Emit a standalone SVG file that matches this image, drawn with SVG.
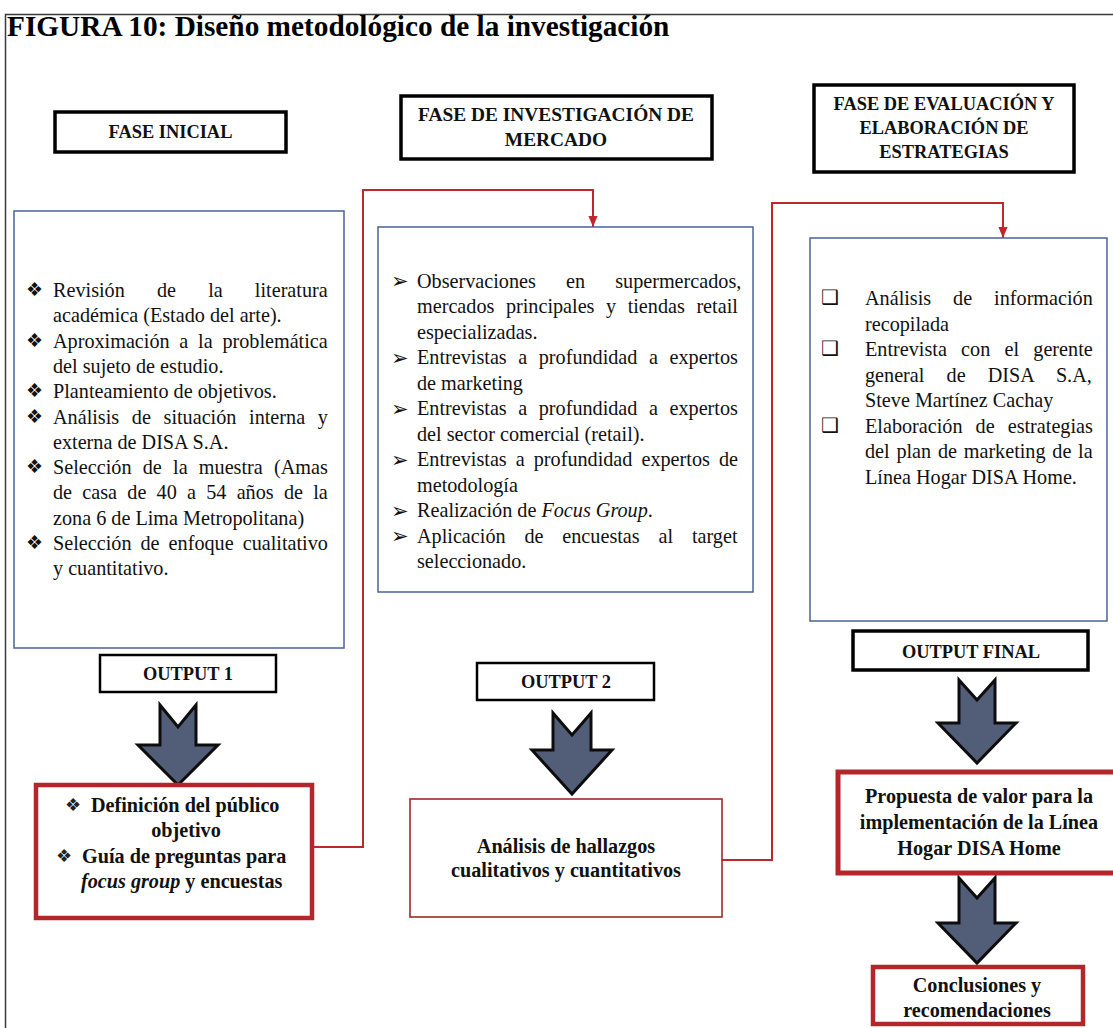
<svg xmlns="http://www.w3.org/2000/svg" width="1113" height="1028" viewBox="0 0 1113 1028">
<defs>
<style>
.frame{fill:none;stroke:#3a3a3a;stroke-width:1.5}
.hdr{fill:#fff;stroke:#000;stroke-width:3.5}
.blue{fill:#fff;stroke:#4a6396;stroke-width:1.5}
.out{fill:#fff;stroke:#000;stroke-width:2.5}
.res{fill:#fff;stroke:#b3262a;stroke-width:4.5}
.res2{fill:#fff;stroke:#a02828;stroke-width:1.6}
.conn{fill:none;stroke:#c0272d;stroke-width:2}
.barrow{fill:#525e78;stroke:#0d0d0d;stroke-width:3;stroke-linejoin:miter}
text{font-family:"Liberation Serif","Times New Roman",serif;fill:#111}
.t{font-size:20.2px}
.tb{font-size:20.2px;font-weight:bold}
.h{font-size:18.4px;font-weight:bold;text-anchor:middle}
.c{text-anchor:middle}
.sym{font-family:"DejaVu Sans",sans-serif;fill:#222}
.title{font-size:29.3px;font-weight:bold;fill:#000}
</style>
<marker id="ah" viewBox="0 0 12 10" refX="12" refY="5" markerWidth="11" markerHeight="10" markerUnits="userSpaceOnUse" orient="auto">
<path d="M0,0 L12,5 L0,10 z" fill="#c0272d"/>
</marker>
</defs>
<rect width="1113" height="1028" fill="#fff"/>
<path class="frame" d="M5.5,1028 V14.5 H1113"/>
<text class="title" x="7" y="36">FIGURA 10: Diseño metodológico de la investigación</text>

<g id="connectors">
<path class="conn" d="M312,847 H363 V190 H593 V227" marker-end="url(#ah)"/>
<path class="conn" d="M722,860 H772 V203 H1003 V238" marker-end="url(#ah)"/>
<polygon class="barrow" points="160,705 178,727 196,705 196,745 218,745 178,785 138,745 160,745"/>
<polygon class="barrow" points="553,713 572,735 591,713 591,750 612,750 572,794 532,750 553,750"/>
<polygon class="barrow" points="959,680 977,700 995,680 995,723 1016,723 977,763 938,723 959,723"/>
<polygon class="barrow" points="959,878 977,898 995,878 995,923 1016,923 977,963 938,923 959,923"/>
</g>

<g id="fase-inicial">
<rect class="hdr" x="55" y="112" width="231" height="40"/>
<text class="h" x="170.5" y="138">FASE INICIAL</text>
</g>

<g id="fase-mercado">
<rect class="hdr" x="401" y="96" width="311" height="63"/>
<text class="h" x="556" y="121" style="font-size:19.4px">FASE DE INVESTIGACIÓN DE</text>
<text class="h" x="556" y="146" style="font-size:19.4px">MERCADO</text>
</g>

<g id="fase-evaluacion">
<rect class="hdr" x="814" y="85" width="260" height="87"/>
<text class="h" x="944" y="110">FASE DE EVALUACIÓN Y</text>
<text class="h" x="944" y="134">ELABORACIÓN DE</text>
<text class="h" x="944" y="158">ESTRATEGIAS</text>
</g>

<g id="box-inicial">
<rect class="blue" x="14" y="211" width="330" height="437"/>
<g class="sym" font-size="19">
<text x="26" y="296">❖</text>
<text x="26" y="346.6">❖</text>
<text x="26" y="397.2">❖</text>
<text x="26" y="422.5">❖</text>
<text x="26" y="473.1">❖</text>
<text x="26" y="549">❖</text>
</g>
<g class="t">
<text x="53" y="297" style="word-spacing:27.1px">Revisión de la literatura</text>
<text x="53" y="322.3">académica (Estado del arte).</text>
<text x="53" y="347.6" style="word-spacing:4.7px">Aproximación a la problemática</text>
<text x="53" y="372.9">del sujeto de estudio.</text>
<text x="53" y="398.2">Planteamiento de objetivos.</text>
<text x="53" y="423.5" style="word-spacing:7.6px">Análisis de situación interna y</text>
<text x="53" y="448.8">externa de DISA S.A.</text>
<text x="53" y="474.1" style="word-spacing:6.2px">Selección de la muestra (Amas</text>
<text x="53" y="499.4" style="word-spacing:5.2px">de casa de 40 a 54 años de la</text>
<text x="53" y="524.7">zona 6 de Lima Metropolitana)</text>
<text x="53" y="550" style="word-spacing:4px">Selección de enfoque cualitativo</text>
<text x="53" y="575.3">y cuantitativo.</text>
</g>
</g>

<g id="box-mercado">
<rect class="blue" x="378" y="227" width="375" height="365"/>
<g class="sym" font-size="21">
<text x="391" y="288">➢</text>
<text x="391" y="364.5">➢</text>
<text x="391" y="415.5">➢</text>
<text x="391" y="466.5">➢</text>
<text x="391" y="517.5">➢</text>
<text x="391" y="543">➢</text>
</g>
<g class="t">
<text x="417" y="287.5" style="word-spacing:25.1px">Observaciones en supermercados,</text>
<text x="417" y="313" style="word-spacing:6.5px">mercados principales y tiendas retail</text>
<text x="417" y="338.5">especializadas.</text>
<text x="417" y="364" style="word-spacing:6.5px">Entrevistas a profundidad a expertos</text>
<text x="417" y="389.5">de marketing</text>
<text x="417" y="415" style="word-spacing:6.5px">Entrevistas a profundidad a expertos</text>
<text x="417" y="440.5">del sector comercial (retail).</text>
<text x="417" y="466" style="word-spacing:4px">Entrevistas a profundidad expertos de</text>
<text x="417" y="491.5">metodología</text>
<text x="417" y="517">Realización de <tspan font-style="italic">Focus Group</tspan>.</text>
<text x="417" y="542.5" style="word-spacing:13.8px">Aplicación de encuestas al target</text>
<text x="417" y="568">seleccionado.</text>
</g>
</g>

<g id="box-evaluacion">
<rect class="blue" x="810" y="238" width="297" height="383"/>
<g class="sym" font-size="20" style="fill:#111">
<text x="821" y="304">❑</text>
<text x="821" y="355">❑</text>
<text x="821" y="431.5">❑</text>
</g>
<g class="t">
<text x="865" y="305" style="word-spacing:16.9px">Análisis de información</text>
<text x="865" y="330.5">recopilada</text>
<text x="865" y="356" style="word-spacing:9.2px">Entrevista con el gerente</text>
<text x="865" y="381.5" style="word-spacing:17.1px">general de DISA S.A,</text>
<text x="865" y="407">Steve Martínez Cachay</text>
<text x="865" y="432.5" style="word-spacing:8px">Elaboración de estrategias</text>
<text x="865" y="458" style="word-spacing:1.7px">del plan de marketing de la</text>
<text x="865" y="483.5">Línea Hogar DISA Home.</text>
</g>
</g>

<g id="output1">
<rect class="out" x="100" y="655" width="176" height="37"/>
<text class="h" x="188" y="680">OUTPUT 1</text>
</g>
<g id="output2">
<rect class="out" x="477" y="663" width="177" height="37"/>
<text class="h" x="566" y="688">OUTPUT 2</text>
</g>
<g id="output-final">
<rect class="hdr" x="853" y="631" width="235" height="39"/>
<text class="h" x="971" y="658">OUTPUT FINAL</text>
</g>

<g id="resultado1">
<rect class="res" x="36" y="785" width="276" height="133"/>
<text class="sym" font-size="18" x="65" y="811">❖</text>
<text class="tb" x="91" y="812">Definición del público</text>
<text class="tb c" x="186" y="837">objetivo</text>
<text class="sym" font-size="18" x="56" y="862">❖</text>
<text class="tb" x="82" y="863">Guía de preguntas para</text>
<text class="tb" x="81" y="888"><tspan font-style="italic">focus group</tspan> y encuestas</text>
</g>

<g id="resultado2">
<rect class="res2" x="410" y="799" width="312" height="118"/>
<text class="tb c" x="566" y="853">Análisis de hallazgos</text>
<text class="tb c" x="566" y="877">cualitativos y cuantitativos</text>
</g>

<g id="propuesta">
<rect class="res" x="838" y="772" width="285" height="101" style="stroke-width:5"/>
<text class="tb c" x="979" y="803">Propuesta de valor para la</text>
<text class="tb c" x="979" y="829">implementación de la Línea</text>
<text class="tb c" x="979" y="855">Hogar DISA Home</text>
</g>

<g id="conclusiones">
<rect class="res" x="873" y="967" width="210" height="57"/>
<text class="tb c" x="977" y="992">Conclusiones y</text>
<text class="tb c" x="977" y="1017">recomendaciones</text>
</g>
</svg>
